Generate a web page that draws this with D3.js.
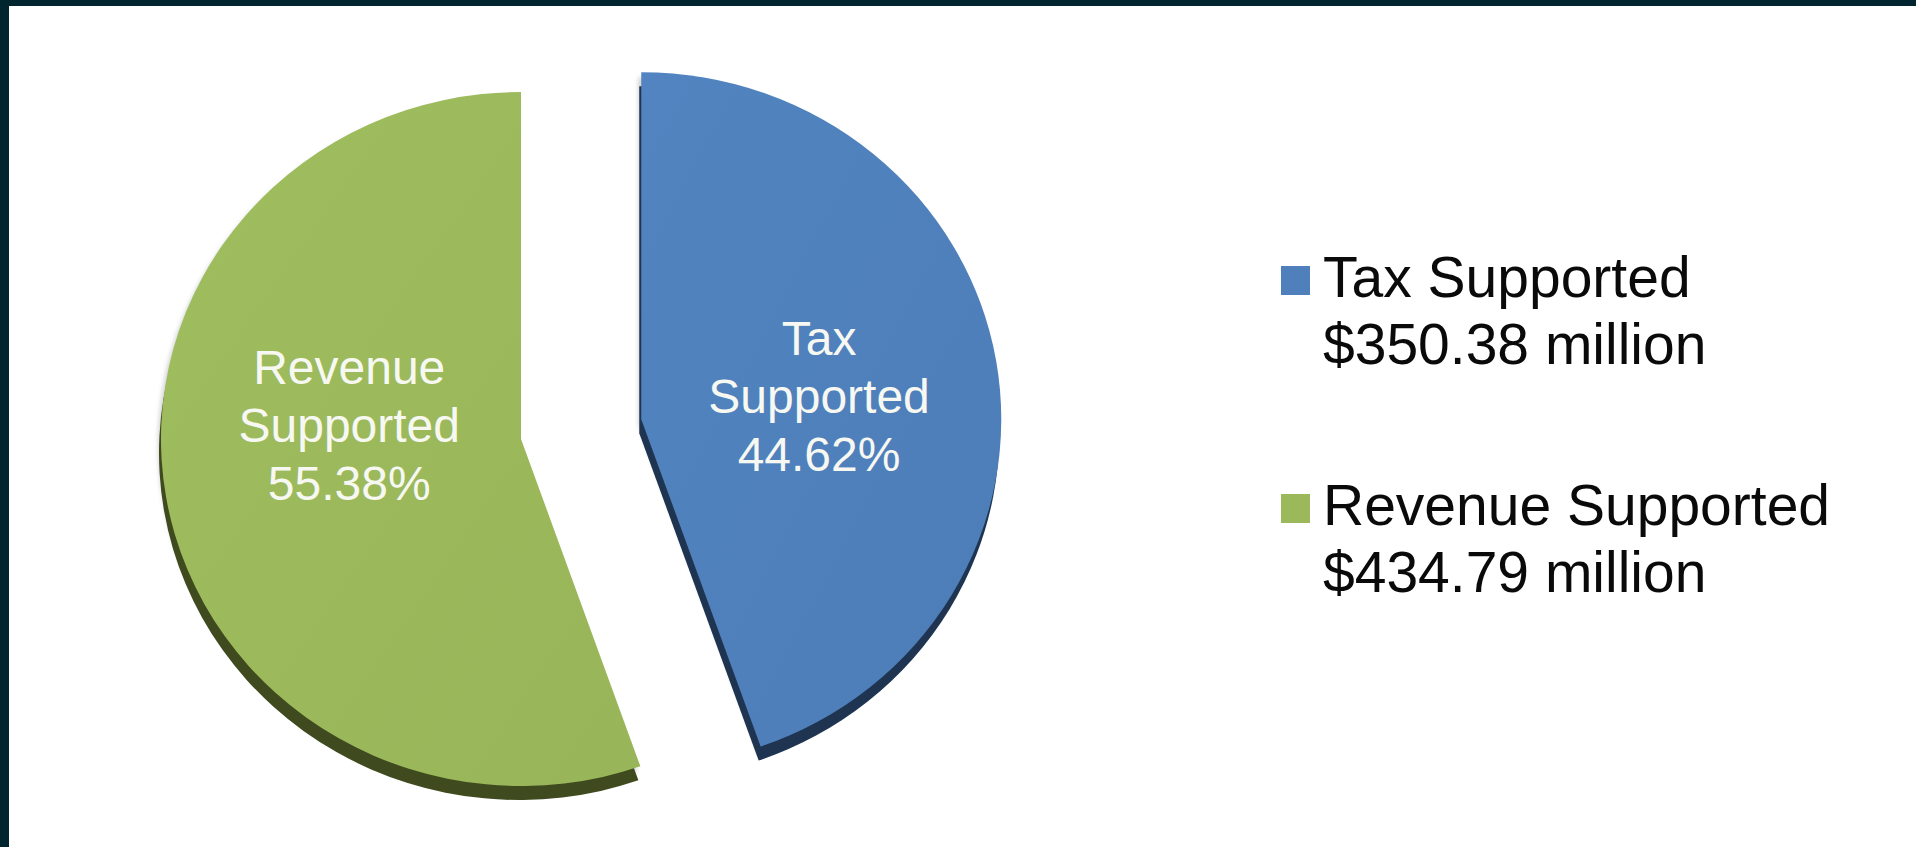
<!DOCTYPE html>
<html>
<head>
<meta charset="utf-8">
<script src="https://cdn.jsdelivr.net/npm/d3@7"></script>
<style>
  html, body { margin: 0; padding: 0; background: #ffffff; }
  svg { display: block; }
</style>
</head>
<body>
<script>
// chart data
var categories = ["Tax Supported", "Revenue Supported"];
var shares = [44.62, 55.38];
var amounts = ["$350.38 million", "$434.79 million"];
var sliceLabels = [["Tax", "Supported", "44.62%"], ["Revenue", "Supported", "55.38%"]];

var width = 1916, height = 847;
var colors = ["#4f80bb", "#9bb95b"];
var darkColors = ["#1e3451", "#3f4a1f"];

var svg = d3.select("body").append("svg")
  .attr("width", width)
  .attr("height", height);

// dark frame top and left
svg.append("rect").attr("x", 0).attr("y", 0).attr("width", width).attr("height", height).attr("fill", "#01252f");
svg.append("rect").attr("x", 9).attr("y", 6).attr("width", width - 9).attr("height", height - 6).attr("fill", "#ffffff");

var defs = svg.append("defs");
colors.forEach(function (c, i) {
  var g = defs.append("linearGradient").attr("id", "grad" + i)
    .attr("x1", "0%").attr("y1", "0%").attr("x2", "100%").attr("y2", "100%");
  g.append("stop").attr("offset", "0%").attr("stop-color", d3.color(c).brighter(0.08));
  g.append("stop").attr("offset", "100%").attr("stop-color", d3.color(c).darker(0.06));
});
defs.append("filter").attr("id", "soft")
  .append("feGaussianBlur").attr("stdDeviation", 2);

var rx = 360, ry = 347;
var cx = 521, cy = 439;
var explode = 122;

var pie = d3.pie().sort(null).value(function (d) { return d; });
var arcs = pie(shares);
var arc = d3.arc().innerRadius(0).outerRadius(rx);

function sliceCenter(d, i) {
  // only the tax slice is pulled out of the pie
  if (i !== 0) return [cx, cy];
  var mid = (d.startAngle + d.endAngle) / 2;
  return [cx + explode * Math.sin(mid), cy - explode * Math.cos(mid) * ry / rx];
}

var slices = svg.selectAll("g.slice")
  .data(arcs)
  .enter().append("g")
  .attr("class", "slice");

// soft shadow
slices.append("path")
  .attr("transform", function (d, i) {
    var c = sliceCenter(d, i);
    return "translate(" + (c[0] - 3) + "," + (c[1] + 5) + ") scale(1," + (ry / rx) + ")";
  })
  .attr("d", arc)
  .attr("fill", "#a0a0a0")
  .attr("opacity", 0.45)
  .attr("filter", "url(#soft)");

// depth side
slices.append("path")
  .attr("transform", function (d, i) {
    var c = sliceCenter(d, i);
    return "translate(" + (c[0] - 2) + "," + (c[1] + 14) + ") scale(1," + (ry / rx) + ")";
  })
  .attr("d", arc)
  .attr("fill", function (d, i) { return darkColors[i]; });

// top face
slices.append("path")
  .attr("transform", function (d, i) {
    var c = sliceCenter(d, i);
    return "translate(" + c[0] + "," + c[1] + ") scale(1," + (ry / rx) + ")";
  })
  .attr("d", arc)
  .attr("fill", function (d, i) { return "url(#grad" + i + ")"; });

// labels inside slices
slices.append("text")
  .attr("text-anchor", "middle")
  .attr("font-family", "'Liberation Sans', Arial, sans-serif")
  .attr("font-size", 48)
  .attr("fill", "#f7f8f2")
  .attr("transform", function (d, i) {
    var c = sliceCenter(d, i);
    var p = arc.centroid(d);
    return "translate(" + (c[0] + p[0] * 0.985 + 3) + "," + (c[1] - 18.5 + p[1] * 0.15) + ")";
  })
  .selectAll("tspan")
  .data(function (d, i) { return sliceLabels[i]; })
  .enter().append("tspan")
  .attr("x", 0)
  .attr("y", function (t, j) { return (j - 1) * 58 + 17; })
  .text(function (t) { return t; });

// legend
var legend = svg.selectAll("g.legend")
  .data(categories)
  .enter().append("g")
  .attr("class", "legend")
  .attr("transform", function (d, i) { return "translate(1281," + (297 + i * 228) + ")"; });

legend.append("rect")
  .attr("x", 0).attr("y", -31)
  .attr("width", 29).attr("height", 29)
  .attr("fill", function (d, i) { return colors[i]; });

legend.append("text")
  .attr("x", 42).attr("y", 0)
  .attr("font-family", "'Liberation Sans', Arial, sans-serif")
  .attr("font-size", 57)
  .attr("fill", "#0a0a0a")
  .text(function (d) { return d; });

legend.append("text")
  .attr("x", 42).attr("y", 67)
  .attr("font-family", "'Liberation Sans', Arial, sans-serif")
  .attr("font-size", 57)
  .attr("fill", "#0a0a0a")
  .text(function (d, i) { return amounts[i]; });
</script>
</body>
</html>
